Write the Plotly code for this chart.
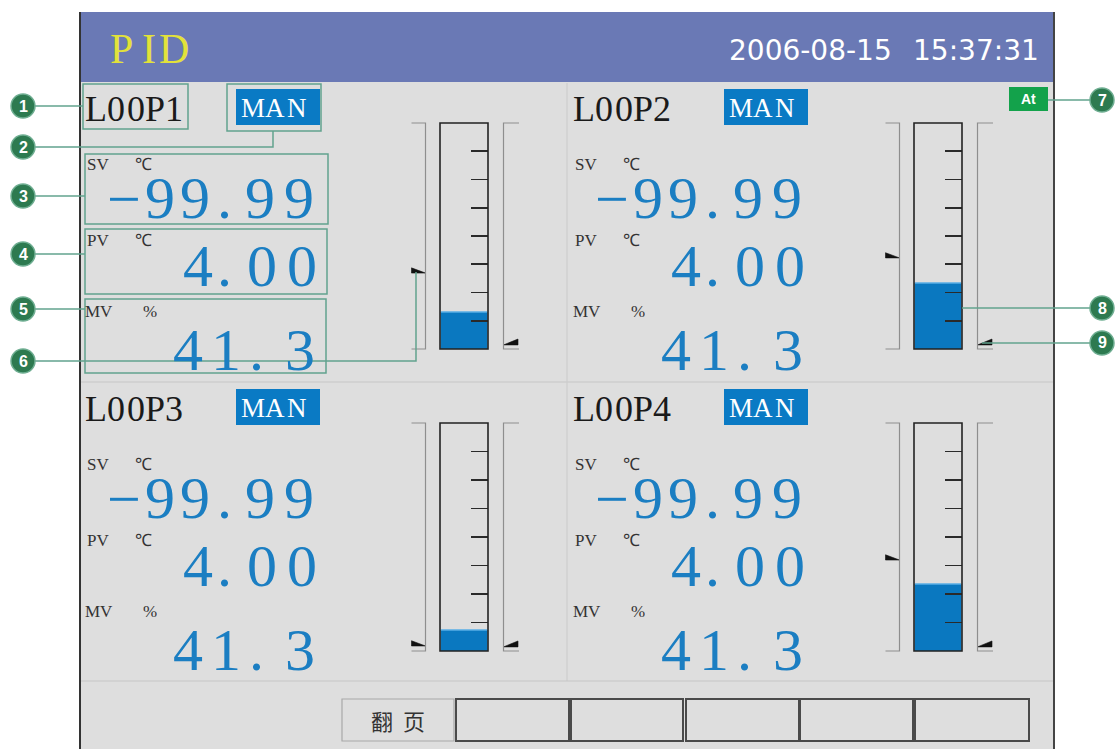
import plotly.graph_objects as go

W, H = 1115, 749

# ---------------- data ----------------
loop_names = ["L00P1", "L00P2", "L00P3", "L00P4"]
loop_modes = ["MAN", "MAN", "MAN", "MAN"]
sv_values = ["-99.99", "-99.99", "-99.99", "-99.99"]
pv_values = ["4.00", "4.00", "4.00", "4.00"]
mv_values = ["41.3", "41.3", "41.3", "41.3"]
bar_levels = [16.4, 29.2, 9.2, 29.4]          # bar fill (% of scale)
left_marks = [33.6, 40.3, 2.2, 39.9]          # left pointer (% of scale)
right_marks = [1.8, 1.8, 1.8, 1.8]            # right pointer (% of scale)
scale_ticks = [12.5, 25, 37.5, 50, 62.5, 75, 87.5]
sv_label, pv_label, mv_label = "SV", "PV", "MV"
temp_unit, pct_unit = "℃", "%"
header_title = "PID"
header_date = "2006-08-15"
header_time = "15:37:31"
at_label = "At"
softkeys = ["翻页", "", "", "", "", ""]
callout_left = ["1", "2", "3", "4", "5", "6"]
callout_right = ["7", "8", "9"]

# ---------------- styles ----------------
SERIF = "Liberation Serif, Times New Roman, serif"
SANS = "DejaVu Sans, sans-serif"
CJK = "Noto Sans CJK SC, sans-serif"
BLUE_TXT = "#1b7ec2"
BLUE_BOX = "#0a7ac4"
BAR_BLUE = "#0a78c0"
BODY = "#dedede"
HEADER = "#6a79b5"
TEAL = "#62a38e"
CIRCLE = "#2d7a50"

def px(x):
    return x / W

def py(y):
    return 1 - y / H

shapes, annotations = [], []

def rect(x0, y0, x1, y1, fill=None, line=None, lw=1.0, layer="below"):
    shapes.append(dict(type="rect", xref="paper", yref="paper",
                       x0=px(x0), x1=px(x1), y0=py(y1), y1=py(y0),
                       fillcolor=fill or "rgba(0,0,0,0)",
                       line=dict(color=line or "rgba(0,0,0,0)", width=lw if line else 0),
                       layer=layer))

def poly(points, color, lw, layer="above"):
    path = "M " + " L ".join(f"{px(x):.6f},{py(y):.6f}" for x, y in points)
    shapes.append(dict(type="path", xref="paper", yref="paper", path=path,
                       line=dict(color=color, width=lw), layer=layer))

def circle(cx, cy, r, fill, line):
    shapes.append(dict(type="circle", xref="paper", yref="paper",
                       x0=px(cx - r), x1=px(cx + r), y0=py(cy + r), y1=py(cy - r),
                       fillcolor=fill, line=dict(color=line, width=1.5), layer="above"))

def text(x, y, s, size, color, family, xanchor="center", weight="normal", height=None):
    a = dict(x=px(x), y=py(y), xref="paper", yref="paper", text=s,
             showarrow=False, xanchor=xanchor, yanchor="middle", valign="middle",
             borderpad=0,
             font=dict(size=size, color=color, family=family, weight=weight))
    if height is not None:
        a["height"] = height
    annotations.append(a)

def chars(s, xs, y, size, color, family, dx=0, dy=0, minus_shift=0, height=None):
    for ch, x in zip(s, xs):
        yy = y + dy
        if ch == "-":
            ch = "\u2212"
            yy += minus_shift
        text(x + dx, yy, ch, size, color, family, height=height)

# ---------------- screen frame ----------------
rect(80, 12, 1054, 749, fill=BODY)
rect(80, 12, 1054, 82, fill=HEADER)
poly([(80, 12), (80, 749)], "#333333", 2, layer="below")
poly([(1054, 12), (1054, 749)], "#444444", 2, layer="below")
poly([(81, 382), (1053, 382)], "#c6c6c6", 1.2, layer="below")
poly([(567, 83), (567, 681)], "#cdcdcd", 1.2, layer="below")
poly([(81, 681), (1053, 681)], "#c6c6c6", 1.2, layer="below")

chars(header_title, [121, 149, 174], 49, 42, "#e2e23a", SERIF)
text(810, 50, header_date, 28, "white", SANS)
text(976, 50, header_time, 28, "white", SANS)

# soft keys
key_x = [(342, 454), (456, 569), (571, 683), (686, 799), (800, 913), (915, 1029)]
for k, (lab, (x0, x1)) in enumerate(zip(softkeys, key_x)):
    if k == 0:
        rect(x0, 699, x1, 741, line="#a8a8a8", lw=1.2)
    else:
        rect(x0, 699, x1, 741, line="#4a4a4a", lw=2)
    if lab:
        chars(lab, [382, 414], 720, 22, "#333333", CJK)

# At badge
rect(1009, 87, 1048, 111, fill="#13a24b")
text(1028.5, 99, at_label, 14, "white", "Liberation Sans, Arial, sans-serif", weight="bold")

# ---------------- loops ----------------
text_off = [(0, 0), (488, 0), (0, 300), (488, 300)]
bar_off = [(0, 0), (474, 0), (0, 300), (474, 300)]
bar_px = [(123, 349), (123, 349), (423, 651), (423, 651)]

traces = []
layout_axes = {}
for i in range(4):
    dx, dy = text_off[i]
    # loop name
    chars(loop_names[i], [96, 116, 135.5, 155, 174], 109, 36, "#1a1a1a", SERIF, dx, dy)
    # mode box
    rect(236 + dx, 89 + dy, 320 + dx, 125 + dy, fill=BLUE_BOX)
    chars(loop_modes[i], [740, 762, 784], 108, 27, "white", SERIF, dx - 487, dy)
    # labels
    text(98 + dx, 164.5 + dy, sv_label, 17, "#333333", SERIF, height=15)
    text(143.5 + dx, 164.5 + dy, temp_unit, 17, "#333333", SERIF, height=15)
    text(98 + dx, 240 + dy, pv_label, 17, "#333333", SERIF, height=15)
    text(143.5 + dx, 240 + dy, temp_unit, 17, "#333333", SERIF, height=15)
    text(99 + dx, 311.5 + dy, mv_label, 17, "#333333", SERIF, height=15)
    text(149.5 + dx, 311.5 + dy, pct_unit, 17, "#333333", SERIF, height=15)
    # values
    chars(sv_values[i], [123.5, 160, 195, 224, 260, 299], 197.5, 60, BLUE_TXT, SERIF, dx, dy,
          minus_shift=1, height=44)
    chars(pv_values[i], [197.5, 224, 262, 302], 266, 60, BLUE_TXT, SERIF, dx, dy, height=44)
    chars(mv_values[i], [187.5, 226, 256, 300], 350, 60, BLUE_TXT, SERIF, dx, dy, height=44)

    # bar-graph subplot
    bx, _ = bar_off[i]
    top, bot = bar_px[i]
    ppu = (bot - top) / 100.0
    pad = 5
    n = i + 1
    xa = "x" if n == 1 else f"x{n}"
    ya = "y" if n == 1 else f"y{n}"
    xlo, xhi = 406 + bx, 526 + bx
    layout_axes["xaxis" if n == 1 else f"xaxis{n}"] = dict(
        domain=[px(xlo), px(xhi)], range=[xlo, xhi], anchor=ya, visible=False, fixedrange=True)
    layout_axes["yaxis" if n == 1 else f"yaxis{n}"] = dict(
        domain=[py(bot + pad * ppu), py(top - pad * ppu)], range=[-pad, 100 + pad],
        anchor="free", position=px(488 + bx), side="right",
        ticks="inside", ticklen=17, tickwidth=1.6, tickcolor="#2a2a2a",
        tickvals=scale_ticks, showticklabels=False, showgrid=False, zeroline=False,
        showline=False, fixedrange=True)

    traces.append(go.Bar(x=[464 + bx], y=[bar_levels[i]], width=[47], xaxis=xa, yaxis=ya,
                         marker=dict(color=BAR_BLUE, line=dict(width=0)),
                         hoverinfo="skip", showlegend=False))
    traces.append(go.Scatter(x=[440.8 + bx, 487.2 + bx], y=[bar_levels[i], bar_levels[i]],
                             xaxis=xa, yaxis=ya, mode="lines",
                             line=dict(color="#58aee6", width=1.5),
                             hoverinfo="skip", showlegend=False))
    lm = left_marks[i]
    traces.append(go.Scatter(x=[411.5 + bx, 411.5 + bx, 425.5 + bx, 411.5 + bx],
                             y=[lm + 2.3, lm, lm, lm + 2.3], xaxis=xa, yaxis=ya,
                             mode="lines", fill="toself", fillcolor="#111111",
                             line=dict(color="#111111", width=0.6),
                             hoverinfo="skip", showlegend=False))
    rm = right_marks[i]
    traces.append(go.Scatter(x=[503.5 + bx, 518 + bx, 518 + bx, 503.5 + bx],
                             y=[rm, rm, rm + 2.6, rm], xaxis=xa, yaxis=ya,
                             mode="lines", fill="toself", fillcolor="#111111",
                             line=dict(color="#111111", width=0.6),
                             hoverinfo="skip", showlegend=False))
    # frame and brackets (drawn in the subplot's coordinates)
    shapes.append(dict(type="rect", xref=xa, yref=ya, x0=440 + bx, x1=488 + bx, y0=0, y1=100,
                       line=dict(color="#222222", width=1.6), layer="above"))
    shapes.append(dict(type="path", xref=xa, yref=ya,
                       path=f"M {411.5+bx},0 L {425.5+bx},0 L {425.5+bx},100 L {411.5+bx},100",
                       line=dict(color="#8e8e8e", width=1.2), layer="above"))
    shapes.append(dict(type="path", xref=xa, yref=ya,
                       path=f"M {519+bx},0 L {503.5+bx},0 L {503.5+bx},100 L {519+bx},100",
                       line=dict(color="#8e8e8e", width=1.2), layer="above"))

# ---------------- callouts ----------------
rect(83, 84, 188, 129, line=TEAL, lw=1.5, layer="above")
rect(227, 84, 321, 131, line=TEAL, lw=1.5, layer="above")
rect(85, 154, 328, 224, line=TEAL, lw=1.5, layer="above")
rect(85, 229, 327, 294, line=TEAL, lw=1.5, layer="above")
rect(85, 299, 326, 373, line=TEAL, lw=1.5, layer="above")

left_y = [106, 147, 196, 254, 309, 361]
poly([(30, 106), (83, 106)], TEAL, 1.5)
poly([(30, 147), (273, 147), (273, 131)], TEAL, 1.5)
poly([(30, 196), (85, 196)], TEAL, 1.5)
poly([(30, 254), (85, 254)], TEAL, 1.5)
poly([(30, 309), (85, 309)], TEAL, 1.5)
poly([(30, 361), (416, 361), (416, 272)], TEAL, 1.5)
right_y = [100, 308, 343]
poly([(1048, 100), (1095, 100)], TEAL, 1.5)
poly([(962, 308), (1095, 308)], TEAL, 1.5)
poly([(982, 343), (1095, 343)], TEAL, 1.5)

for lab, cy in zip(callout_left, left_y):
    circle(23, cy, 12, CIRCLE, "#6fae92")
    text(23, cy, lab, 16, "white", "Liberation Sans, Arial, sans-serif", weight="bold")
for lab, cy in zip(callout_right, right_y):
    circle(1102, cy, 12, CIRCLE, "#6fae92")
    text(1102, cy, lab, 16, "white", "Liberation Sans, Arial, sans-serif", weight="bold")

fig = go.Figure(data=traces)
fig.update_layout(
    width=W, height=H, margin=dict(l=0, r=0, t=0, b=0),
    paper_bgcolor="white", plot_bgcolor="rgba(0,0,0,0)",
    showlegend=False, shapes=shapes, annotations=annotations,
    **layout_axes,
)
fig.write_html("out.html", config={"displayModeBar": False, "staticPlot": True},
               post_script="document.body.style.margin='0';document.body.style.overflow='hidden';")
